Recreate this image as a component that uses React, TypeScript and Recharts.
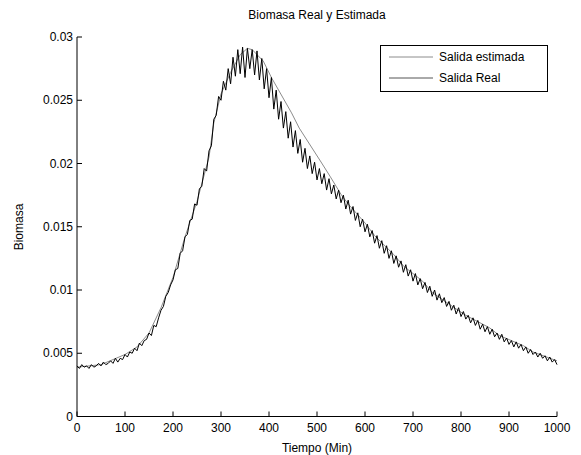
import { Line, LineChart, XAxis, YAxis } from "recharts";

// Salida Real, sampled every 5 min from 0 to 1000
const pasoReal = 5;
const salidaReal = [
  0.0040, 0.0038, 0.0041, 0.0039, 0.0040, 0.0038, 0.0041, 0.0039, 0.0040, 0.0042,
  0.0040, 0.0043, 0.0041, 0.0042, 0.0044, 0.0042, 0.0046, 0.0043, 0.0046, 0.0045,
  0.0049, 0.0047, 0.0051, 0.0050, 0.0054, 0.0052, 0.0058, 0.0056, 0.0060, 0.0061,
  0.0066, 0.0064, 0.0072, 0.0071, 0.0078, 0.0084, 0.0087, 0.0095, 0.0098, 0.0104,
  0.0108, 0.0116, 0.0117, 0.0129, 0.0131, 0.0142, 0.0144, 0.0155, 0.0156, 0.0168,
  0.0167, 0.0180, 0.0182, 0.0196, 0.0194, 0.0210, 0.0214, 0.0235, 0.0238, 0.0253,
  0.0250, 0.0265, 0.0258, 0.0275, 0.0263, 0.0284, 0.0269, 0.0290, 0.0271, 0.0292,
  0.0268, 0.0291, 0.0275, 0.0290, 0.0270, 0.0289, 0.0266, 0.0283, 0.0259, 0.0275,
  0.0252, 0.0268, 0.0243, 0.0258, 0.0235, 0.0249, 0.0228, 0.0241, 0.0220, 0.0233,
  0.0213, 0.0226, 0.0208, 0.0219, 0.0201, 0.0212, 0.0196, 0.0206, 0.0192, 0.0201,
  0.0187, 0.0196, 0.0184, 0.0192, 0.0179, 0.0188, 0.0176, 0.0183, 0.0172, 0.0179,
  0.0169, 0.0175, 0.0164, 0.0171, 0.0160, 0.0166, 0.0155, 0.0161, 0.0150, 0.0156,
  0.0146, 0.0152, 0.0142, 0.0147, 0.0137, 0.0143, 0.0133, 0.0139, 0.0129, 0.0135,
  0.0125, 0.0131, 0.0121, 0.0127, 0.0118, 0.0123, 0.0114, 0.0120, 0.0111, 0.0116,
  0.0107, 0.0113, 0.0104, 0.0109, 0.0101, 0.0106, 0.0098, 0.0103, 0.0095, 0.0100,
  0.0092, 0.0097, 0.0090, 0.0094, 0.0087, 0.0091, 0.0084, 0.0088, 0.0081, 0.0086,
  0.0079, 0.0083, 0.0077, 0.0080, 0.0074, 0.0078, 0.0072, 0.0076, 0.0069, 0.0073,
  0.0067, 0.0071, 0.0065, 0.0069, 0.0063, 0.0066, 0.0061, 0.0065, 0.0059, 0.0062,
  0.0057, 0.0060, 0.0055, 0.0059, 0.0054, 0.0057, 0.0052, 0.0055, 0.0050, 0.0053,
  0.0049, 0.0051, 0.0047, 0.0050, 0.0046, 0.0048, 0.0044, 0.0047, 0.0043, 0.0045,
  0.0041,
];

// Salida estimada (piecewise, restarts on the way down)
const tiempoEstimada = [
  0, 50, 100, 125, 150, 175, 200, 225, 250, 275, 285, 300, 320, 340, 355, 365,
  388, 405, 447, 463, 507, 527, 551, 565, 600, 620, 660, 680, 720, 740, 790, 810,
  860, 880, 930, 950, 1000,
];
const salidaEstimada = [
  0.0039, 0.0041, 0.0049, 0.0055, 0.0066, 0.0086, 0.0110, 0.0142, 0.0170, 0.0205,
  0.0232, 0.0255, 0.0272, 0.0286, 0.0291, 0.0290, 0.0281, 0.0268, 0.0240, 0.0228,
  0.0202, 0.0190, 0.0175, 0.0168, 0.0153, 0.0143, 0.0128, 0.0119, 0.0107, 0.0098,
  0.0085, 0.0080, 0.0070, 0.0064, 0.0056, 0.0051, 0.0044,
];

const xTicks = [0, 100, 200, 300, 400, 500, 600, 700, 800, 900, 1000];
const yTicks = [0, 0.005, 0.01, 0.015, 0.02, 0.025, 0.03];

const realData = salidaReal.map((v, i) => ({ t: i * pasoReal, v }));
const estData = tiempoEstimada.map((t, i) => ({ t, v: salidaEstimada[i] }));

const FONT = '"Liberation Sans", Arial, Helvetica, sans-serif';
const TICK = 5;

const BottomTick = ({ x, y, payload }: any) => (
  <g>
    <line x1={x} x2={x} y1={y} y2={y - TICK} stroke="#000" />
    <text x={x} y={y + 15} textAnchor="middle" fontSize={12} fontFamily={FONT} fill="#000">
      {payload.value}
    </text>
  </g>
);

const LeftTick = ({ x, y, payload }: any) => (
  <g>
    <line x1={x} x2={x + TICK} y1={y} y2={y} stroke="#000" />
    <text x={x - 4} y={y + 4} textAnchor="end" fontSize={12} fontFamily={FONT} fill="#000">
      {payload.value}
    </text>
  </g>
);

const TopTick = ({ x, y }: any) => (
  <line x1={x} x2={x} y1={y} y2={y + TICK} stroke="#000" />
);

const RightTick = ({ x, y }: any) => (
  <line x1={x} x2={x - TICK} y1={y} y2={y} stroke="#000" />
);

const legendRows = [
  { name: "Salida estimada", color: "#8c8c8c", top: 3 },
  { name: "Salida Real", color: "#555", top: 24 },
];

export default function App() {
  return (
    <div style={{ position: "fixed", left: 0, top: 0, width: 581, height: 455, background: "#fff", fontFamily: FONT }}>
      <div style={{ position: "absolute", left: 77, width: 480, top: 8, textAlign: "center", fontSize: 12 }}>
        Biomasa Real y Estimada
      </div>
      <LineChart width={581} height={455} data={realData} margin={{ top: 37, right: 24, left: 0, bottom: 0 }}>
        <XAxis
          xAxisId="b"
          dataKey="t"
          type="number"
          domain={[0, 1000]}
          ticks={xTicks}
          tick={<BottomTick />}
          tickLine={false}
          tickSize={0}
          tickMargin={0}
          height={38.5}
          axisLine={{ stroke: "#000" }}
          label={{ value: "Tiempo (Min)", position: "insideBottom", offset: 3, fontSize: 12, fill: "#000", fontFamily: FONT }}
        />
        <XAxis
          xAxisId="t"
          orientation="top"
          dataKey="t"
          type="number"
          domain={[0, 1000]}
          ticks={xTicks}
          tick={<TopTick />}
          tickLine={false}
          tickSize={0}
          tickMargin={0}
          height={0}
          axisLine={{ stroke: "#000" }}
        />
        <YAxis
          yAxisId="l"
          type="number"
          domain={[0, 0.03]}
          ticks={yTicks}
          tick={<LeftTick />}
          tickLine={false}
          tickSize={0}
          tickMargin={0}
          width={77}
          axisLine={{ stroke: "#000" }}
          label={{
            content: () => (
              <text x={23} y={227} transform="rotate(-90 23 227)" textAnchor="middle" fontSize={12} fontFamily={FONT} fill="#000">
                Biomasa
              </text>
            ),
          }}
        />
        <YAxis
          yAxisId="r"
          orientation="right"
          type="number"
          domain={[0, 0.03]}
          ticks={yTicks}
          tick={<RightTick />}
          tickLine={false}
          tickSize={0}
          tickMargin={0}
          width={0}
          axisLine={{ stroke: "#000" }}
        />
        <Line
          xAxisId="b"
          yAxisId="l"
          data={estData}
          dataKey="v"
          name="Salida estimada"
          type="linear"
          stroke="#8c8c8c"
          strokeWidth={1}
          dot={false}
          isAnimationActive={false}
        />
        <Line
          xAxisId="b"
          yAxisId="l"
          data={realData}
          dataKey="v"
          name="Salida Real"
          type="linear"
          stroke="#000"
          strokeWidth={1}
          dot={false}
          isAnimationActive={false}
        />
      </LineChart>
      <div
        style={{
          position: "absolute",
          left: 380,
          top: 45,
          width: 166,
          height: 45,
          border: "1px solid #000",
          background: "#fff",
          fontSize: 12,
        }}
      >
        {legendRows.map((row) => (
          <div key={row.name} style={{ position: "absolute", left: 8, top: row.top, height: 16, display: "flex", alignItems: "center" }}>
            <svg width={44} height={16}>
              <line x1={0} x2={44} y1={8} y2={8} stroke={row.color} strokeWidth={1} />
            </svg>
            <span style={{ marginLeft: 6, whiteSpace: "nowrap" }}>{row.name}</span>
          </div>
        ))}
      </div>
    </div>
  );
}
